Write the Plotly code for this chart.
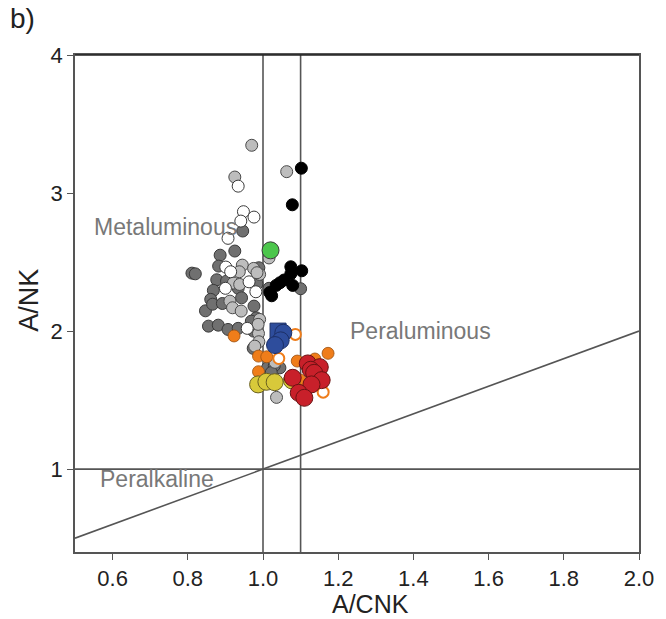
import plotly.graph_objects as go

# ---- sample groups: A/CNK (x) and A/NK (y) ----
dark_x = [0.946, 0.886, 0.925, 0.811, 0.820, 0.882, 0.989, 0.877, 0.903, 0.984,
          0.868, 0.934, 0.943, 0.861, 0.847, 0.866, 0.892, 0.976, 0.982, 0.855,
          0.881, 0.907, 0.934, 0.975, 0.974, 0.969, 1.016, 1.012, 1.045, 1.030,
          1.100, 1.022]
dark_y = [2.725, 2.550, 2.580, 2.420, 2.415, 2.471, 2.459, 2.372, 2.362, 2.343,
          2.295, 2.310, 2.241, 2.230, 2.147, 2.195, 2.200, 2.181, 2.096, 2.036,
          2.043, 2.012, 2.020, 2.000, 1.875, 2.072, 2.310, 1.734, 1.734, 1.750,
          2.307, 1.700]

light_x = [0.970, 0.925, 1.063, 0.945, 0.975, 0.937, 0.921, 0.912, 0.919, 0.942,
           0.991, 0.988, 0.989, 0.991, 0.984, 0.938, 1.016, 1.032, 1.036, 0.987,
           0.978]
light_y = [3.346, 3.116, 3.155, 2.478, 2.454, 2.430, 2.348, 2.217, 2.169, 2.145,
           2.085, 1.983, 1.923, 2.411, 2.423, 2.338, 2.530, 1.774, 1.520, 2.049,
           1.891]

white_x = [0.934, 0.948, 0.976, 0.941, 0.907, 0.901, 0.914, 0.963, 0.900, 0.981,
           0.958]
white_y = [3.050, 2.865, 2.826, 2.797, 2.672, 2.464, 2.430, 2.357, 2.310, 2.285,
           2.020]

black_x = [1.102, 1.078, 1.074, 1.103, 1.074, 1.056, 1.079, 1.035, 1.045, 1.023,
           1.018]
black_y = [3.180, 2.915, 2.466, 2.437, 2.415, 2.370, 2.331, 2.331, 2.350, 2.256,
           2.280]

orange_x = [0.923, 0.988, 0.988, 1.010, 1.091, 1.138, 1.173, 1.099]
orange_y = [1.965, 1.819, 1.706, 1.814, 1.783, 1.798, 1.839, 1.645]

orange_open_x = [1.086, 1.042, 1.160]
orange_open_y = [1.976, 1.802, 1.558]

blue_sq_x = [1.040]
blue_sq_y = [2.000]
blue_x = [1.054, 1.047, 1.032]
blue_y = [1.988, 1.933, 1.899]

yellow_x = [0.987, 1.009, 1.031, 1.077]
yellow_y = [1.614, 1.633, 1.630, 1.643]

red_x = [1.119, 1.151, 1.127, 1.136, 1.156, 1.129, 1.079, 1.095, 1.110]
red_y = [1.766, 1.739, 1.720, 1.698, 1.645, 1.614, 1.662, 1.553, 1.517]

green_x = [1.020]
green_y = [2.585]

# ---- field boundaries ----
acnk_bounds = [1.0, 1.1]     # vertical lines
ank_bound = 1.0              # horizontal line
diag_x = [0.5, 2.0]          # A/NK = A/CNK
diag_y = [0.5, 2.0]

x_range = [0.5, 2.0]
y_range = [0.4, 4.0]
x_ticks = [0.6, 0.8, 1.0, 1.2, 1.4, 1.6, 1.8, 2.0]
y_ticks = [1, 2, 3, 4]

FONT = "Liberation Sans, Arial, sans-serif"
LINE = "#555555"

fig = go.Figure()


def add_pts(x, y, fill, edge, size, symbol="circle", ew=1.0):
    fig.add_trace(go.Scatter(
        x=x, y=y, mode="markers", showlegend=False, hoverinfo="skip",
        marker=dict(symbol=symbol, size=size, color=fill,
                    line=dict(color=edge, width=ew))))


add_pts(dark_x, dark_y, "#707070", "#3a3a3a", 12)
add_pts(light_x, light_y, "#bdbdbd", "#4a4a4a", 12)
add_pts(white_x, white_y, "#ffffff", "#3a3a3a", 12)
add_pts(black_x, black_y, "#000000", "#000000", 12)
add_pts(orange_x, orange_y, "#ef7d1a", "#9a5010", 12, ew=0.8)
add_pts(orange_open_x, orange_open_y, "#ffffff", "#ef7d1a", 11, ew=2)
add_pts(blue_sq_x, blue_sq_y, "#2e4d9c", "#1c2f66", 16, symbol="square")
add_pts(blue_x, blue_y, "#2e4d9c", "#1c2f66", 17)
add_pts(yellow_x, yellow_y, "#d8c93a", "#6a6020", 17)
add_pts(red_x, red_y, "#c8202a", "#6a1212", 17)
add_pts(green_x, green_y, "#4cc64c", "#3a3a3a", 17)

shapes = []
for v in acnk_bounds:
    shapes.append(dict(type="line", xref="x", yref="y", x0=v, x1=v,
                       y0=y_range[0], y1=y_range[1],
                       line=dict(color=LINE, width=1.6), layer="below"))
shapes.append(dict(type="line", xref="x", yref="y", x0=x_range[0], x1=x_range[1],
                   y0=ank_bound, y1=ank_bound,
                   line=dict(color=LINE, width=1.6), layer="below"))
shapes.append(dict(type="line", xref="x", yref="y", x0=diag_x[0], x1=diag_x[1],
                   y0=diag_y[0], y1=diag_y[1],
                   line=dict(color=LINE, width=1.6), layer="below"))
# darker top frame edge
shapes.append(dict(type="line", xref="paper", yref="paper", x0=0, x1=1, y0=1, y1=1,
                   line=dict(color="#222222", width=1.6)))

annotations = [
    dict(x=0.742, y=2.752, xref="x", yref="y", text="Metaluminous", showarrow=False,
         font=dict(family=FONT, size=23, color="#787878")),
    dict(x=1.419, y=2.0, xref="x", yref="y", text="Peraluminous", showarrow=False,
         font=dict(family=FONT, size=23, color="#787878")),
    dict(x=0.717, y=0.928, xref="x", yref="y", text="Peralkaline", showarrow=False,
         font=dict(family=FONT, size=23, color="#787878")),
    dict(x=0.524, y=-0.104, xref="paper", yref="paper", text="A/CNK", showarrow=False,
         xanchor="center", yanchor="middle",
         font=dict(family=FONT, size=25, color="#222222")),
    dict(x=-0.082, y=0.507, xref="paper", yref="paper", text="A/NK", showarrow=False,
         textangle=-90, xanchor="center", yanchor="middle",
         font=dict(family=FONT, size=27, color="#222222")),
    dict(x=-0.093, y=1.074, xref="paper", yref="paper", text="b)", showarrow=False,
         xanchor="center", yanchor="middle",
         font=dict(family=FONT, size=28, color="#222222")),
]

axis_common = dict(showgrid=False, zeroline=False, showline=True, linecolor=LINE,
                   linewidth=1.6, mirror=True, ticks="outside", ticklen=6,
                   tickwidth=1.4, tickcolor=LINE,
                   tickfont=dict(family=FONT, size=22, color="#222222"))

fig.update_layout(
    width=666, height=619,
    margin=dict(l=75, r=24, t=55, b=67),
    paper_bgcolor="white", plot_bgcolor="white",
    xaxis=dict(range=x_range, tickvals=x_ticks, tickformat=".1f", **axis_common),
    yaxis=dict(range=y_range, tickvals=y_ticks, **axis_common),
    shapes=shapes, annotations=annotations,
)

fig.write_html("out.html")
